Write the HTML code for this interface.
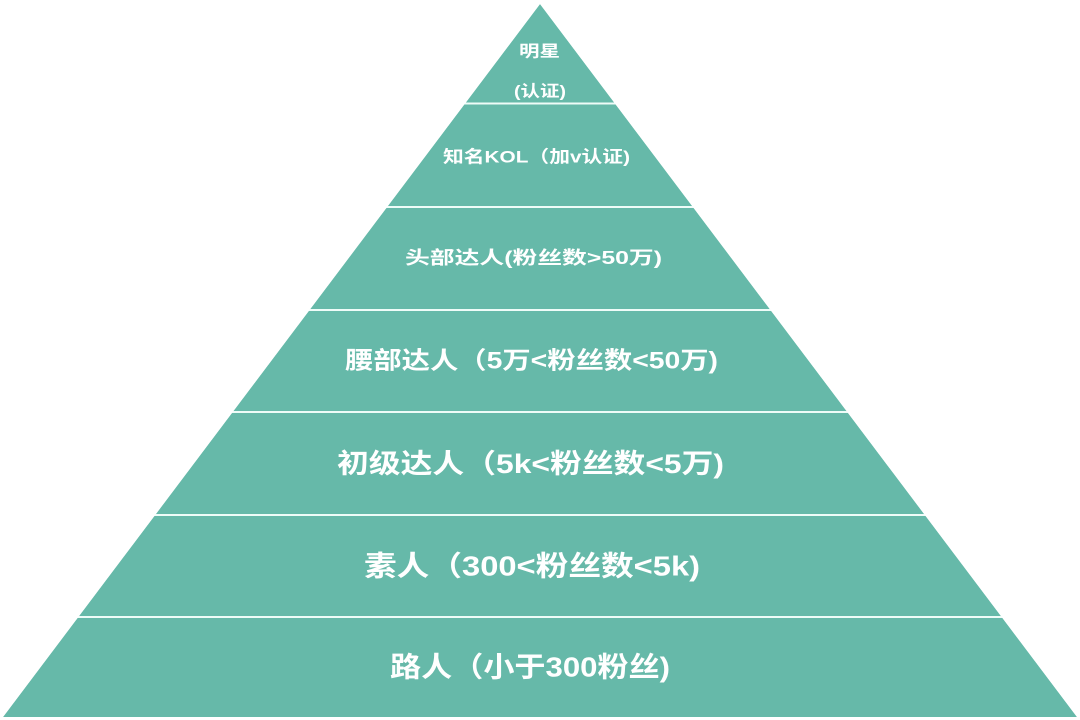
<!DOCTYPE html>
<html><head><meta charset="utf-8"><style>
html,body{margin:0;padding:0;background:#fff;width:1080px;height:720px;overflow:hidden}
svg text{font-family:"Liberation Sans","Noto Sans CJK SC",sans-serif;font-weight:bold;fill:#fff;text-anchor:middle;dominant-baseline:central}
</style></head><body>
<svg width="1080" height="720" viewBox="0 0 1080 720">
<polygon points="540,4 1077,717 3,717" fill="#66b9a9"/>
<g stroke="#eefcf8" stroke-width="2">
<line x1="0" y1="103.5" x2="1080" y2="103.5"/>
<line x1="0" y1="207" x2="1080" y2="207"/>
<line x1="0" y1="310" x2="1080" y2="310"/>
<line x1="0" y1="412" x2="1080" y2="412"/>
<line x1="0" y1="515" x2="1080" y2="515"/>
<line x1="0" y1="617" x2="1080" y2="617"/>
</g>
<polygon points="0,0 540,4 3,717 0,720" fill="#fff"/>
<polygon points="1080,0 540,4 1077,717 1080,720" fill="#fff"/>
<text x="539.5" y="52" font-size="16" textLength="41" lengthAdjust="spacingAndGlyphs">明星</text>
<text x="540" y="92" font-size="16" textLength="52" lengthAdjust="spacingAndGlyphs">(认证)</text>
<text x="536.5" y="157" font-size="17" textLength="187" lengthAdjust="spacingAndGlyphs">知名KOL（加v认证)</text>
<text x="533.5" y="258" font-size="18" textLength="257" lengthAdjust="spacingAndGlyphs">头部达人(粉丝数&gt;50万)</text>
<text x="531.5" y="361" font-size="24" textLength="373" lengthAdjust="spacingAndGlyphs">腰部达人（5万&lt;粉丝数&lt;50万)</text>
<text x="530.5" y="464" font-size="27" textLength="387" lengthAdjust="spacingAndGlyphs">初级达人（5k&lt;粉丝数&lt;5万)</text>
<text x="532" y="566" font-size="28" textLength="336" lengthAdjust="spacingAndGlyphs">素人（300&lt;粉丝数&lt;5k)</text>
<text x="530" y="667" font-size="28" textLength="280" lengthAdjust="spacingAndGlyphs">路人（小于300粉丝)</text>
</svg>
</body></html>
